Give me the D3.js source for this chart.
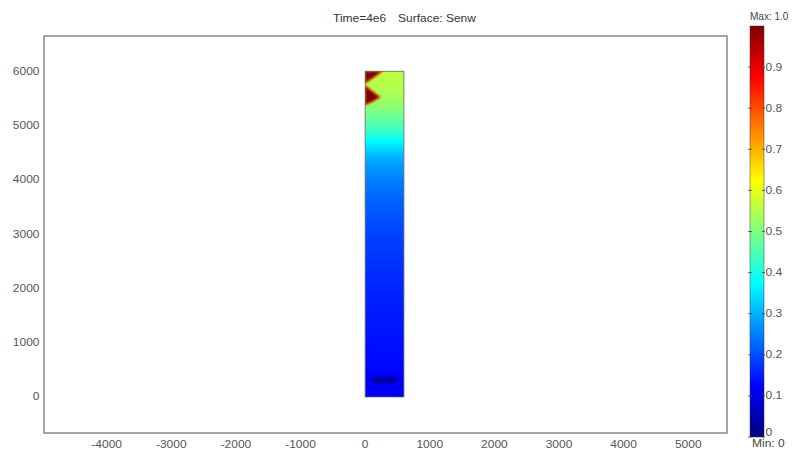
<!DOCTYPE html>
<html>
<head>
<meta charset="utf-8">
<script src="https://cdn.jsdelivr.net/npm/d3@7"></script>
<style>
  body { margin: 0; background: #fff; }
  text { font-family: "Liberation Sans", Arial, sans-serif; }
</style>
</head>
<body>
<svg id="chart" width="792" height="452"></svg>
<script>
// ---- data ----
const titleParts = ["Time=4e6", "Surface: Senw"];
const xTicks = [-4000, -3000, -2000, -1000, 0, 1000, 2000, 3000, 4000, 5000];
const yTicks = [0, 1000, 2000, 3000, 4000, 5000, 6000];
const xExtent = [-4970, 5600];
const yExtent = [-665, 6650];

// computational column (m)
const columnX = [0, 600];
const columnY = [0, 6000];

// Senw along the column height
const profileHeight = [0,    300,  500,  1000, 2000, 3000, 3600, 4000, 4300, 4500, 4700, 4900, 5100, 5400, 5700, 6000];
const profileSenw   = [0.12, 0.12, 0.13, 0.14, 0.16, 0.19, 0.22, 0.25, 0.28, 0.32, 0.37, 0.43, 0.47, 0.52, 0.55, 0.56];

// saturated pockets near the top (x, y in m) with their Senw
const pocketSenw = [1.0, 1.0];
const pockets = [
  [[0, 6000], [260, 6000], [130, 5890], [0, 5790]],
  [[0, 5730], [120, 5620], [225, 5525], [115, 5450], [0, 5385]]
];

// low-saturation lens near the base
const lensCenter = [300, 315];
const lensRadius = [220, 55];
const lensSenw = 0.0;

// colour bar
const barTicks = [0, 0.1, 0.2, 0.3, 0.4, 0.5, 0.6, 0.7, 0.8, 0.9];
const barMax = "Max: 1.0";
const barMin = "Min: 0";

// jet colour map
const jetStops  = [0, 0.125, 0.375, 0.625, 0.875, 1];
const jetColors = ["#000080", "#0000ff", "#00ffff", "#ffff00", "#ff0000", "#800000"];

// ---- drawing ----
const svg = d3.select("#chart");
const frame = { left: 44, right: 727, top: 36, bottom: 433 };
const stretch = 1.2;   // glyphs are drawn slightly wide

const x = d3.scaleLinear().domain(xExtent).range([frame.left, frame.right]);
const y = d3.scaleLinear().domain(yExtent).range([frame.bottom, frame.top]);
const jet = d3.scaleLinear().domain(jetStops).range(jetColors).interpolate(d3.interpolateRgb).clamp(true);
const profile = d3.scaleLinear().domain(profileHeight).range(profileSenw).clamp(true);

const defs = svg.append("defs");
defs.append("filter").attr("id", "soft").attr("x", "-20%").attr("y", "-20%").attr("width", "140%").attr("height", "140%")
  .append("feGaussianBlur").attr("stdDeviation", 0.8);
defs.append("filter").attr("id", "lensBlur").attr("x", "-50%").attr("y", "-50%").attr("width", "200%").attr("height", "200%")
  .append("feGaussianBlur").attr("stdDeviation", 1.8);
defs.append("clipPath").attr("id", "colClip").append("rect")
  .attr("x", x(columnX[0])).attr("y", y(columnY[1]))
  .attr("width", x(columnX[1]) - x(columnX[0])).attr("height", y(columnY[0]) - y(columnY[1]));

function label(sel, px, py, txt, anchor, size, fill, sx = stretch) {
  return sel.append("text")
    .attr("transform", `translate(${px},${py}) scale(${sx},1)`)
    .attr("text-anchor", anchor)
    .attr("font-size", size)
    .attr("fill", fill)
    .text(txt);
}

// title
label(svg, 333, 21.5, titleParts[0], "start", 10, "#333");
label(svg, 398, 21.5, titleParts[1], "start", 10, "#333");

// plot frame
svg.append("rect")
  .attr("x", frame.left).attr("y", frame.top)
  .attr("width", frame.right - frame.left).attr("height", frame.bottom - frame.top)
  .attr("fill", "#fff").attr("stroke", "#808080").attr("stroke-width", 1.4);

// axes (labels only)
const gx = svg.append("g");
xTicks.forEach(t => label(gx, x(t), 447.5, String(t), "middle", 10, "#555"));
const gy = svg.append("g");
yTicks.forEach(t => label(gy, 39.5, y(t) + 3.5, String(t), "end", 10, "#555"));

// column surface
const field = svg.append("g").attr("clip-path", "url(#colClip)");
const rowTop = Math.floor(y(columnY[1])), rowBottom = Math.ceil(y(columnY[0]));
const rows = d3.range(rowTop, rowBottom);
field.selectAll("rect.row").data(rows).join("rect")
  .attr("class", "row")
  .attr("x", x(columnX[0])).attr("width", x(columnX[1]) - x(columnX[0]))
  .attr("y", d => d).attr("height", 1.05)
  .attr("fill", d => jet(profile(y.invert(d + 0.5))));

field.append("ellipse")
  .attr("cx", x(lensCenter[0])).attr("cy", y(lensCenter[1]))
  .attr("rx", x(lensCenter[0] + lensRadius[0]) - x(lensCenter[0]))
  .attr("ry", y(lensCenter[1]) - y(lensCenter[1] + lensRadius[1]))
  .attr("fill", jet(lensSenw)).attr("opacity", 0.9).attr("filter", "url(#lensBlur)");

const line = d3.line().x(d => x(d[0])).y(d => y(d[1]));
field.selectAll("path.halo").data(pockets).join("path")
  .attr("class", "halo")
  .attr("d", d => line(d) + "Z")
  .attr("fill", "none").attr("stroke", jet(0.72)).attr("stroke-width", 2.4)
  .attr("filter", "url(#soft)");
field.selectAll("path.pocket").data(pockets).join("path")
  .attr("class", "pocket")
  .attr("d", d => line(d) + "Z")
  .attr("fill", (d, i) => jet(pocketSenw[i])).attr("filter", "url(#soft)");

svg.append("rect")
  .attr("x", x(columnX[0])).attr("y", y(columnY[1]))
  .attr("width", x(columnX[1]) - x(columnX[0])).attr("height", y(columnY[0]) - y(columnY[1]))
  .attr("fill", "none").attr("stroke", "#555").attr("stroke-width", 0.9).attr("stroke-opacity", 0.8);

// colour bar
const bar = { x: 750, w: 14, top: 26, bottom: 437 };
const c = d3.scaleLinear().domain([0, 1]).range([bar.bottom, bar.top]);
const gb = svg.append("g");
gb.selectAll("rect").data(d3.range(bar.top, bar.bottom)).join("rect")
  .attr("x", bar.x).attr("width", bar.w)
  .attr("y", d => d).attr("height", 1.05)
  .attr("fill", d => jet(c.invert(d + 0.5)));
gb.append("rect")
  .attr("x", bar.x).attr("y", bar.top).attr("width", bar.w).attr("height", bar.bottom - bar.top)
  .attr("fill", "none").attr("stroke", "#333").attr("stroke-opacity", 0.6).attr("stroke-width", 0.8);
barTicks.forEach(t => {
  gb.append("line").attr("x1", bar.x - 2).attr("x2", bar.x + 2).attr("y1", c(t)).attr("y2", c(t))
    .attr("stroke", "#444").attr("stroke-width", 0.8);
  gb.append("line").attr("x1", bar.x + bar.w - 2).attr("x2", bar.x + bar.w + 1).attr("y1", c(t)).attr("y2", c(t))
    .attr("stroke", "#444").attr("stroke-width", 0.8);
  const ty = t === 0 ? c(t) - 1 : c(t) + 3.5;
  label(gb, bar.x + bar.w + 1.5, ty, t === 0 ? "0" : d3.format(".1f")(t), "start", 10, "#555");
});
label(gb, 750, 20, barMax, "start", 10, "#444", 1.0);
label(gb, 752, 447, barMin, "start", 10, "#444");
</script>
</body>
</html>
